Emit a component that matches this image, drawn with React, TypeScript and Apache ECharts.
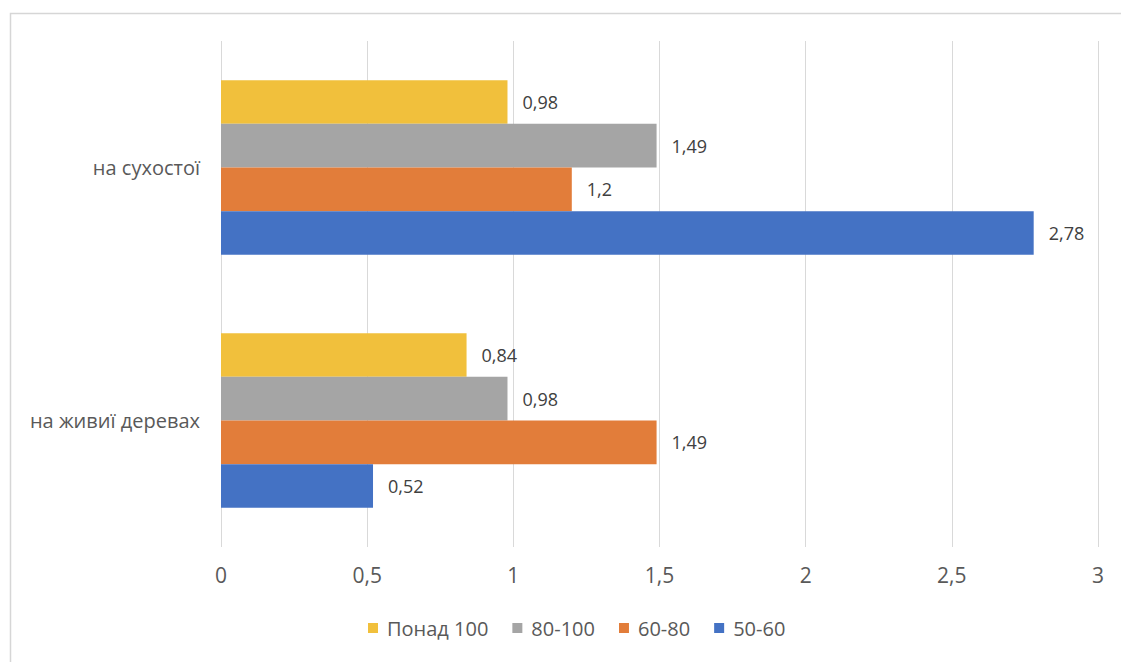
import React, { useEffect, useRef } from "react";
import * as echarts from "echarts";

const categories = ["на живиї деревах", "на сухостої"];
const seriesNames = ["Понад 100", "80-100", "60-80", "50-60"];
const valuesOver100 = [0.84, 0.98];
const values80100 = [0.98, 1.49];
const values6080 = [1.49, 1.2];
const values5060 = [0.52, 2.78];
const colors = ["#F1C03C", "#A5A5A5", "#E27D3A", "#4472C4"];
const xTicks = { min: 0, max: 3, interval: 0.5 };

const fmt = (v: number) => String(v).replace(".", ",");

export default function App() {
  const ref = useRef<HTMLDivElement>(null);
  useEffect(() => {
    if (!ref.current) return;
    const chart = echarts.init(ref.current, undefined, { renderer: "svg" });
    const font = "'Open Sans', 'Noto Sans', sans-serif";
    const all = [valuesOver100, values80100, values6080, values5060];
    chart.setOption({
      animation: false,
      textStyle: { fontFamily: font },
      graphic: [
        {
          type: "rect",
          shape: { x: 10.5, y: 13.5, width: 1200, height: 800 },
          style: { fill: "none", stroke: "#d6d6d6", lineWidth: 1.5 },
          silent: true,
        },
      ],
      grid: { left: 221, right: 23, top: 41, bottom: 115 },
      legend: {
        data: seriesNames,
        left: 363,
        top: 613,
        icon: "rect",
        itemWidth: 10,
        itemHeight: 10,
        itemGap: 24,
        textStyle: { color: "#595959", fontSize: 20, fontFamily: font, padding: [0, 0, 0, 4] },
      },
      xAxis: {
        type: "value",
        min: xTicks.min,
        max: xTicks.max,
        interval: xTicks.interval,
        axisLine: { show: false },
        axisTick: { show: false },
        splitLine: { lineStyle: { color: "#d9d9d9", width: 1 } },
        axisLabel: {
          color: "#595959",
          fontSize: 21,
          margin: 17,
          formatter: (v: number) => fmt(v),
        },
      },
      yAxis: {
        type: "category",
        data: categories,
        axisLine: { show: false },
        axisTick: { show: false },
        splitLine: { show: false },
        axisLabel: { color: "#595959", fontSize: 20, margin: 21 },
      },
      series: seriesNames.map((name, i) => ({
        name,
        type: "bar",
        data: all[i],
        barGap: "0%",
        barCategoryGap: "31%",
        itemStyle: { color: colors[i] },
        label: {
          show: true,
          position: "right",
          distance: 15,
          color: "#404040",
          fontSize: 18,
          formatter: (p: any) => fmt(p.value),
        },
      })),
    });
    return () => chart.dispose();
  }, []);
  return (
    <div
      ref={ref}
      style={{ position: "fixed", top: 0, left: 0, width: 1121, height: 662, background: "#fff" }}
    />
  );
}
